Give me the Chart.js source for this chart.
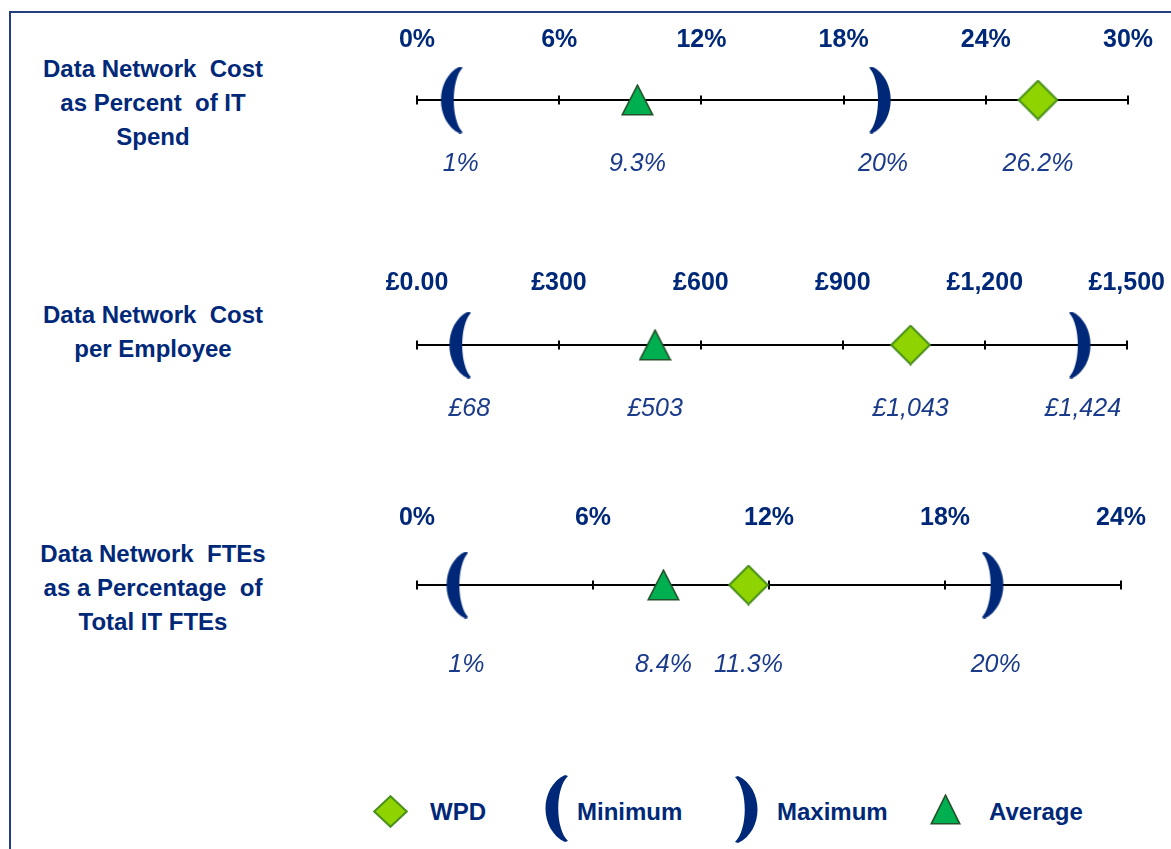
<!DOCTYPE html>
<html>
<head>
<meta charset="utf-8">
<script src="https://cdn.jsdelivr.net/npm/chart.js@4.4.1/dist/chart.umd.min.js"></script>
<style>
  body { margin: 0; background: #fff; }
  #page { position: relative; width: 1171px; height: 849px; overflow: hidden;
          font-family: "Liberation Sans", Arial, sans-serif; color: #002878; }
  #frame { position: absolute; left: 9px; top: 11px; right: -10px; bottom: -10px;
           border-top: 2px solid #243f80; border-left: 2px solid #243f80; }
  .title { position: absolute; left: 0; width: 306px; text-align: center;
           font-weight: bold; font-size: 24px; line-height: 34px; white-space: pre; }
  .lg { position: absolute; top: 797px; font-weight: bold; font-size: 24px; line-height: 30px; white-space: pre; }
  canvas.chart { position: absolute; left: 0; }
  canvas.icon { position: absolute; }
</style>
</head>
<body>
<div id="page">
  <div id="frame"></div>

  <div class="title" style="top:52px">Data Network  Cost
as Percent  of IT
Spend</div>
  <div class="title" style="top:298px">Data Network  Cost
per Employee</div>
  <div class="title" style="top:537px">Data Network  FTEs
as a Percentage  of
Total IT FTEs</div>

  <canvas id="c1" class="chart" width="1171" height="200" style="top:0px"></canvas>
  <canvas id="c2" class="chart" width="1171" height="200" style="top:245px"></canvas>
  <canvas id="c3" class="chart" width="1171" height="200" style="top:485px"></canvas>

  <canvas id="lgWpd" class="icon" width="35" height="33" style="left:373px;top:795px"></canvas>
  <span class="lg" style="left:430px">WPD</span>
  <canvas id="lgMin" class="icon" width="23" height="67" style="left:545px;top:775px"></canvas>
  <span class="lg" style="left:577px">Minimum</span>
  <canvas id="lgMax" class="icon" width="23" height="67" style="left:735px;top:776px"></canvas>
  <span class="lg" style="left:777px">Maximum</span>
  <canvas id="lgAvg" class="icon" width="31" height="31" style="left:930px;top:794px"></canvas>
  <span class="lg" style="left:989px">Average</span>
</div>

<script>
// data
var tickLabels1 = ['0%', '6%', '12%', '18%', '24%', '30%'];
var tickLabels2 = ['£0.00', '£300', '£600', '£900', '£1,200', '£1,500'];
var tickLabels3 = ['0%', '6%', '12%', '18%', '24%'];
var axisMax  = [30, 1500, 24];
var axisStep = [6, 300, 6];
var units    = ['%', '£', '%'];

var minimum = [1, 68, 1];
var average = [9.3, 503, 8.4];
var wpd     = [26.2, 1043, 11.3];
var maximum = [20, 1424, 20];

// layout per chart (canvas local px, axis line sits at y=100)
var tickGap  = [60, 61.5, 67];
var valueDy  = [64, 64, 80];
var rightPad = [43, 43, 50];
var TICK_SIZE = 25;

var NAVY = '#002878';
var LABEL = '#1a3a8a';

function makeDiamond(w, h) {
	var c = document.createElement('canvas');
	c.width = w; c.height = h;
	drawDiamond(c, w, h);
	return c;
}
function drawDiamond(c, w, h) {
	var ctx = c.getContext('2d');
	ctx.beginPath();
	ctx.moveTo(w / 2, 1.2);
	ctx.lineTo(w - 1.2, h / 2);
	ctx.lineTo(w / 2, h - 1.2);
	ctx.lineTo(1.2, h / 2);
	ctx.closePath();
	ctx.fillStyle = '#8fd400';
	ctx.fill();
	ctx.lineWidth = 2;
	ctx.strokeStyle = '#4b8f1e';
	ctx.stroke();
}
function makeTriangle(w, h) {
	var c = document.createElement('canvas');
	c.width = w; c.height = h;
	drawTriangle(c, w, h);
	return c;
}
function drawTriangle(c, w, h) {
	var ctx = c.getContext('2d');
	ctx.beginPath();
	ctx.moveTo(w / 2, 1.2);
	ctx.lineTo(w - 1.2, h - 1.2);
	ctx.lineTo(1.2, h - 1.2);
	ctx.closePath();
	ctx.fillStyle = '#00b050';
	ctx.fill();
	ctx.lineWidth = 1.6;
	ctx.strokeStyle = '#24502a';
	ctx.stroke();
}
// open = true for "(" , mirrored for ")"
function drawBracket(ctx, ox, w, h, open) {
	ctx.save();
	ctx.translate(ox, 0);
	if (!open) { ctx.translate(w, 0); ctx.scale(-1, 1); }
	ctx.beginPath();
	ctx.moveTo(w - 3, 0);
	ctx.bezierCurveTo(-6, h * 0.18, -6, h * 0.82, w - 3, h);
	ctx.lineTo(w, h - 1);
	ctx.bezierCurveTo(10, h * 0.8, 10, h * 0.2, w, 1);
	ctx.closePath();
	ctx.fillStyle = NAVY;
	ctx.fill();
	ctx.restore();
}
// shift moves the glyph inward (towards the range)
function makeBracket(open, w, h, shift) {
	var c = document.createElement('canvas');
	c.width = w + 2 * shift; c.height = h;
	drawBracket(c.getContext('2d'), open ? 2 * shift : 0, w, h, open);
	return c;
}

var diamondImg  = makeDiamond(41, 41);
var triangleImg = makeTriangle(33, 32);
var openImg     = makeBracket(true, 22, 67, 11);
var closeImg    = makeBracket(false, 22, 67, 11);

function fmt(v, unit) {
	if (unit == '£') return '£' + v.toLocaleString('en-GB');
	return v + '%';
}

var numberLine = {
	id: 'numberLine',
	beforeDatasetsDraw: function(chart) {
		var xs = chart.scales.x, ys = chart.scales.y, ctx = chart.ctx;
		var py = Math.round(ys.getPixelForValue(0));
		ctx.save();
		ctx.strokeStyle = '#000';
		ctx.lineWidth = 2;
		ctx.beginPath();
		ctx.moveTo(xs.left, py);
		ctx.lineTo(xs.right, py);
		xs.ticks.forEach(function(t) {
			var px = Math.round(xs.getPixelForValue(t.value));
			ctx.moveTo(px, py - 4.5);
			ctx.lineTo(px, py + 4.5);
		});
		ctx.stroke();
		ctx.restore();
	},
	afterDatasetsDraw: function(chart, args, opts) {
		var ctx = chart.ctx;
		ctx.save();
		ctx.font = 'italic 25px "Liberation Sans", Arial, sans-serif';
		ctx.fillStyle = LABEL;
		ctx.textAlign = 'center';
		ctx.textBaseline = 'middle';
		chart.data.datasets.forEach(function(ds, i) {
			var pt = chart.getDatasetMeta(i).data[0];
			ctx.fillText(fmt(ds.data[0].x, opts.unit), pt.x + (ds.labelDx || 0), pt.y + opts.dy);
		});
		ctx.restore();
	}
};

function build_chart(id, k, tickLabels) {
	var lh = TICK_SIZE * 1.2;
	var chartTop = 100 - tickGap[k] + 6 + lh / 2;
	var padTop = chartTop - (lh + 12);
	return new Chart(document.getElementById(id), {
		type: 'scatter',
		data: {
			datasets: [
				{ label: 'Minimum', data: [{x: minimum[k], y: 0}], pointStyle: openImg, labelDx: 20, clip: false },
				{ label: 'Maximum', data: [{x: maximum[k], y: 0}], pointStyle: closeImg, labelDx: -8, clip: false },
				{ label: 'Average', data: [{x: average[k], y: 0}], pointStyle: triangleImg, clip: false },
				{ label: 'WPD',     data: [{x: wpd[k],     y: 0}], pointStyle: diamondImg, clip: false }
			]
		},
		options: {
			responsive: false,
			animation: false,
			events: [],
			layout: { padding: { left: 417, right: rightPad[k], top: padTop, bottom: chartTop } },
			plugins: {
				legend: { display: false },
				tooltip: { enabled: false },
				numberLine: { unit: units[k], dy: valueDy[k] }
			},
			scales: {
				x: {
					type: 'linear',
					position: 'top',
					min: 0,
					max: axisMax[k],
					grid: { display: false, drawTicks: false },
					border: { display: false },
					ticks: {
						stepSize: axisStep[k],
						autoSkip: false,
						maxRotation: 0,
						padding: 6,
						color: NAVY,
						font: { family: '"Liberation Sans", Arial, sans-serif', size: TICK_SIZE, weight: 'bold' },
						callback: function(v, i) { return tickLabels[i]; }
					}
				},
				y: { display: false, min: -1, max: 1 }
			}
		},
		plugins: [numberLine]
	});
}

var chart1 = build_chart('c1', 0, tickLabels1);
var chart2 = build_chart('c2', 1, tickLabels2);
var chart3 = build_chart('c3', 2, tickLabels3);

// legend icons
drawDiamond(document.getElementById('lgWpd'), 35, 33);
drawBracket(document.getElementById('lgMin').getContext('2d'), 0, 23, 67, true);
drawBracket(document.getElementById('lgMax').getContext('2d'), 0, 23, 67, false);
drawTriangle(document.getElementById('lgAvg'), 31, 31);
</script>
</body>
</html>
